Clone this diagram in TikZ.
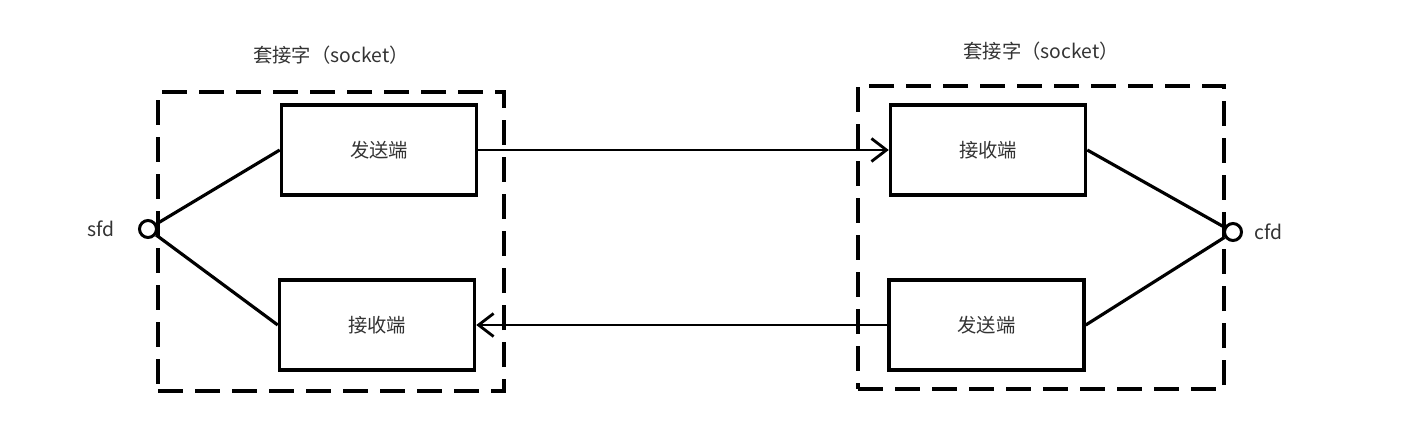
\documentclass[tikz,border=0pt]{standalone}
\usepackage{fontspec}
\setmainfont{Noto Sans CJK SC}
\usetikzlibrary{arrows.meta}
\begin{document}
\begin{tikzpicture}[
    port/.style={rectangle, draw, line width=2pt, minimum width=3.9cm, minimum height=1.8cm, font=\fontsize{11}{13}\selectfont, text=black!80},
    grp/.style={rectangle, draw, line width=2pt, dash pattern=on 0.5cm off 0.24cm},
    fd/.style={circle, draw, line width=1.7pt, minimum size=0.34cm, inner sep=0pt, fill=white},
    lbl/.style={font=\fontsize{11}{13}\selectfont, text=black!80},
    >={Straight Barb[length=0.3cm, width=0.46cm]}
  ]
    \useasboundingbox (0,0) rectangle (28.38,-8.72);
    % server side
    \node[grp, minimum width=6.92cm, minimum height=5.98cm, label={[lbl, label distance=0.4cm]above:套接字（socket）}] (g1) at (6.62,-4.83) {};
    \node[port] (ls) at (7.58,-3.0) {发送端};
    \node[port] (lr) at (7.54,-6.5) {接收端};
    \node[fd, label={[lbl, label distance=0.35cm]left:sfd}] (sfd) at (2.96,-4.58) {};
    % client side
    \node[grp, minimum width=7.32cm, minimum height=6.06cm, label={[lbl, label distance=0.35cm]above:套接字（socket）}] (g2) at (20.82,-4.75) {};
    \node[port] (rr) at (19.76,-3.0) {接收端};
    \node[port] (rs) at (19.73,-6.5) {发送端};
    \node[fd, label={[lbl, label distance=0.1cm]right:cfd}] (cfd) at (24.66,-4.64) {};
    \draw[line width=1.8pt] (sfd) -- (ls.west);
    \draw[line width=1.8pt] (sfd) -- (lr.west);
    \draw[line width=1.8pt] (cfd) -- (rr.east);
    \draw[line width=1.8pt] (cfd) -- (rs.east);
    \draw[->, line width=1.6pt] (ls.east) -- (rr.west);
    \draw[->, line width=1.6pt] (rs.west) -- (lr.east);
  \end{tikzpicture}
\end{document}
